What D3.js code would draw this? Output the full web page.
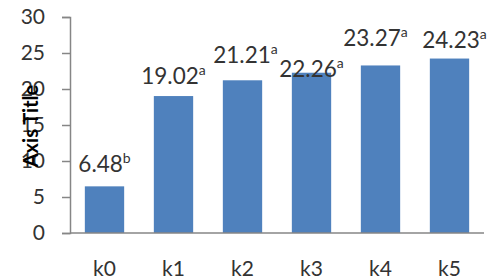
<!DOCTYPE html>
<html>
<head>
<meta charset="utf-8">
<script src="https://cdn.jsdelivr.net/npm/d3@7"></script>
<style>
  body { margin: 0; background: #fff; }
  text { font-family: Lato, "Open Sans", sans-serif; }
</style>
</head>
<body>
<svg id="chart" width="492" height="280"></svg>
<script>
const categories = ['k0', 'k1', 'k2', 'k3', 'k4', 'k5'];
const values = [6.48, 19.02, 21.21, 22.26, 23.27, 24.23];
const letters = ['b', 'a', 'a', 'a', 'a', 'a'];
const yTicks = [0, 5, 10, 15, 20, 25, 30];

// label nudges (px) as in the original, labels were dragged by hand
const labelDy = [-14, -12, -17, 4, -19, -11];
const labelDx = [0, 0, 3, 0, -5, 5];

const svg = d3.select('#chart');

const xScale = d3.scaleBand()
  .domain(categories)
  .range([70, 484])
  .paddingInner(0.43)
  .paddingOuter(0.215);

const yScale = d3.scaleLinear().domain([0, 30]).range([233, 17]);

// y axis
const yAxis = svg.append('g')
  .attr('transform', 'translate(70,0)')
  .call(d3.axisLeft(yScale).tickValues(yTicks).tickSize(8).tickPadding(17));
yAxis.select('.domain').attr('stroke', '#868686').attr('stroke-width', 1.5);
yAxis.selectAll('.tick line').attr('stroke', '#868686').attr('stroke-width', 1.5);
yAxis.selectAll('.tick text')
  .attr('font-size', 21)
  .attr('fill', '#333')
  .style('font-family', 'Lato, sans-serif');

// bars
svg.selectAll('.bar')
  .data(values)
  .enter()
  .append('rect')
  .classed('bar', true)
  .attr('fill', '#4F81BD')
  .attr('x', (d, i) => xScale(categories[i]))
  .attr('width', xScale.bandwidth())
  .attr('y', d => yScale(d))
  .attr('height', d => yScale(0) - yScale(d));

// x axis line
svg.append('line')
  .attr('x1', 70).attr('x2', 484)
  .attr('y1', yScale(0)).attr('y2', yScale(0))
  .attr('stroke', '#868686').attr('stroke-width', 1.5);

// x labels
svg.selectAll('.xlab')
  .data(categories)
  .enter()
  .append('text')
  .attr('x', d => xScale(d) + xScale.bandwidth() / 2)
  .attr('y', 276)
  .attr('text-anchor', 'middle')
  .attr('font-size', 21)
  .attr('fill', '#333')
  .text(d => d);

// value labels with superscript letters
const labels = svg.selectAll('.vlab')
  .data(values)
  .enter()
  .append('text')
  .attr('x', (d, i) => xScale(categories[i]) + xScale.bandwidth() / 2 + labelDx[i])
  .attr('y', (d, i) => yScale(d) + labelDy[i])
  .attr('text-anchor', 'middle')
  .attr('font-size', 22.5)
  .attr('fill', '#333');
labels.append('tspan').text(d => d.toFixed(2));
labels.append('tspan')
  .attr('font-size', 14)
  .attr('dy', -9)
  .text((d, i) => letters[i]);

// axis title
svg.append('text')
  .attr('transform', 'translate(38,126) rotate(-90)')
  .attr('text-anchor', 'middle')
  .attr('font-size', 20)
  .attr('font-weight', 'bold')
  .attr('fill', '#000')
  .text('Axis Title');
</script>
</body>
</html>
